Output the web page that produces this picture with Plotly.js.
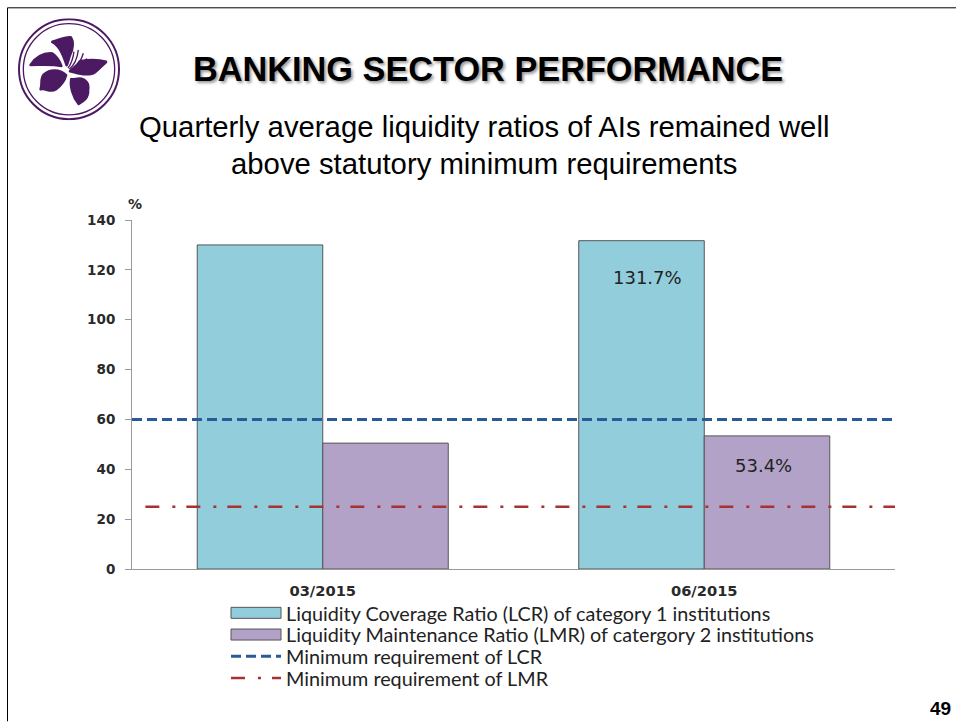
<!DOCTYPE html>
<html>
<head>
<meta charset="utf-8">
<script src="https://cdn.plot.ly/plotly-3.0.1.min.js"></script>
<style>html,body{margin:0;padding:0;background:#fff;overflow:hidden}#c{width:956px;height:722px}</style>
</head>
<body>
<div id="c"></div>
<script>
var categories = ['03/2015', '06/2015'];
var categoryPositions = [0, 1];
var lcrValues = [130, 131.7];
var lmrValues = [50.5, 53.4];
var lcrMinimum = [60, 60];
var lmrMinimum = [25, 25];
var lcrLineX = [-0.5, 1.5];
var lmrLineX = [-0.465, 1.5];
var yTicks = [0, 20, 40, 60, 80, 100, 120, 140];
var seriesNames = [
  'Liquidity Coverage Ratio (LCR) of category 1 institutions',
  'Liquidity Maintenance Ratio (LMR) of catergory 2 institutions',
  'Minimum requirement of LCR',
  'Minimum requirement of LMR'
];
var W = 956, H = 722, L = 132, R = 895, T = 220, B = 569.5;
function px(x) { return (x - L) / (R - L); }
function py(y) { return (B - y) / (B - T); }

var logoSvg = '<svg xmlns="http://www.w3.org/2000/svg" width="306" height="306" viewBox="54 55 306 306">' +
  '<circle cx="207" cy="208" r="150" fill="none" stroke="#4b1a63" stroke-width="6"/>' +
  '<circle cx="207" cy="208" r="137" fill="none" stroke="#4b1a63" stroke-width="4"/>' +
  '<g fill="#4b1a63" stroke="#4b1a63" stroke-width="8" stroke-linejoin="round">' +
  '<path d="M200 196C192 170 178 135 157 126C175 122 192 110 212 112C222 125 218 150 210 165C205 178 204 188 200 196Z"/>' +
  '<path d="M184 198C155 192 120 195 92 195C105 174 130 158 157 161C170 170 178 182 184 198Z"/>' +
  '<path d="M210 214C232 220 268 230 286 216C300 205 308 195 318 186C292 178 266 180 240 184C232 196 220 206 210 214Z"/>' +
  '<path d="M198 226C178 208 150 208 132 224C120 236 128 252 122 268C140 264 150 280 168 268C184 256 194 242 198 226Z"/>' +
  '<path d="M214 238C210 258 218 290 236 312C250 304 266 294 264 270C268 250 256 240 245 237C235 234 222 240 214 238Z"/>' +
  '</g>' +
  '<g fill="none" stroke="#4b1a63" stroke-width="4">' +
  '<path d="M204 205C215 190 220 170 222 155"/>' +
  '<path d="M208 208C224 195 232 175 235 150"/>' +
  '<path d="M212 210C232 200 244 182 250 160"/>' +
  '<path d="M214 214C236 210 252 195 260 176"/>' +
  '</g></svg>';

var traces = [
  { type: 'bar', name: seriesNames[0], x: categoryPositions, y: lcrValues,
    marker: { color: '#92cddc', line: { color: '#555', width: 1 } } },
  { type: 'bar', name: seriesNames[1], x: categoryPositions, y: lmrValues,
    marker: { color: '#b3a2c7', line: { color: '#555', width: 1 } } },
  { type: 'scatter', mode: 'lines', name: seriesNames[2], x: lcrLineX, y: lcrMinimum,
    line: { color: '#2a5a98', width: 3, dash: '10px,5px' } },
  { type: 'scatter', mode: 'lines', name: seriesNames[3], x: lmrLineX, y: lmrMinimum,
    line: { color: '#a83232', width: 2.5, dash: '14px,13px,3px,11px' } }
];

function centered(x, y, text, font) {
  return { xref: 'paper', yref: 'paper', x: px(x), y: py(y), xanchor: 'center', yanchor: 'middle',
    showarrow: false, text: text, font: font };
}

var layout = {
  width: W, height: H,
  margin: { l: L, r: W - R, t: T, b: H - B, pad: 0, autoexpand: false },
  paper_bgcolor: '#fff', plot_bgcolor: '#fff',
  barmode: 'group', bargap: 0.342, bargroupgap: 0,
  hovermode: false,
  xaxis: {
    automargin: false,
    range: [-0.5, 1.5], tickmode: 'array', tickvals: categoryPositions, ticktext: categories,
    ticks: '', showgrid: false, zeroline: false, showline: true, linecolor: '#999', linewidth: 1,
    ticklabelstandoff: 8,
    tickfont: { family: 'DejaVu Sans', size: 14.7, color: '#2a2a2a', weight: 'bold' }
  },
  yaxis: {
    automargin: false,
    range: [0, 140], tickmode: 'array', tickvals: yTicks,
    ticks: 'outside', ticklen: 6, tickcolor: '#999', tickwidth: 1,
    showgrid: false, zeroline: false, showline: true, linecolor: '#999', linewidth: 1,
    ticklabelstandoff: 7,
    tickfont: { family: 'DejaVu Sans', size: 13.5, color: '#2a2a2a', weight: 'bold' }
  },
  legend: {
    x: px(226), y: py(594), xanchor: 'left', yanchor: 'top',
    bgcolor: 'rgba(0,0,0,0)', itemwidth: 50, itemclick: false, itemdoubleclick: false,
    traceorder: 'normal',
    font: { family: 'Lato', size: 19.8, color: '#222' }
  },
  annotations: [
    centered(488, 69, '<b>BANKING SECTOR PERFORMANCE</b>',
      { family: 'Liberation Sans', size: 34.3, color: '#000', shadow: '2px 2px 3px #999' }),
    centered(484, 126.5, 'Quarterly average liquidity ratios of AIs remained well',
      { family: 'Liberation Sans', size: 29.3, color: '#000' }),
    centered(484, 163, 'above statutory minimum requirements',
      { family: 'Liberation Sans', size: 29.3, color: '#000' }),
    centered(135, 204, '<b>%</b>', { family: 'DejaVu Sans', size: 14, color: '#2a2a2a' }),
    { xref: 'x', yref: 'y', x: 0.851, y: 116.8, xanchor: 'center', yanchor: 'middle', showarrow: false,
      text: lcrValues[1] + '%', font: { family: 'DejaVu Sans', size: 18, color: '#222' } },
    { xref: 'x', yref: 'y', x: 1.154, y: 41.5, xanchor: 'center', yanchor: 'middle', showarrow: false,
      text: lmrValues[1] + '%', font: { family: 'DejaVu Sans', size: 18, color: '#222' } },
    centered(940, 709, '<b>49</b>', { family: 'Liberation Sans', size: 19, color: '#000' })
  ],
  shapes: [
    { type: 'line', xref: 'paper', yref: 'paper', x0: px(7.5), x1: px(956), y0: py(7.5), y1: py(7.5),
      line: { color: '#000', width: 1 } },
    { type: 'line', xref: 'paper', yref: 'paper', x0: px(7.5), x1: px(7.5), y0: py(7.5), y1: py(722),
      line: { color: '#000', width: 1 } }
  ],
  images: [
    { source: 'data:image/svg+xml;charset=utf-8,' + encodeURIComponent(logoSvg),
      xref: 'paper', yref: 'paper', x: px(18), y: py(18), sizex: 102 / (R - L), sizey: 102 / (B - T),
      xanchor: 'left', yanchor: 'top', sizing: 'stretch', layer: 'above' }
  ]
};

Plotly.newPlot('c', traces, layout, { displayModeBar: false, staticPlot: true }).then(function () {
  var rows = document.querySelectorAll('#c .legend .traces');
  var m = /translate\(([-\d.]+),\s*([-\d.]+)\)/.exec(rows[0].getAttribute('transform'));
  for (var i = 0; i < rows.length; i++) {
    rows[i].setAttribute('transform', 'translate(' + m[1] + ',' + (parseFloat(m[2]) + i * 21.7) + ')');
  }
  for (var k = 0; k < 2; k++) {
    var paths = rows[k].querySelectorAll('.legendpoints path');
    for (var j = 0; j < paths.length; j++) {
      paths[j].setAttribute('d', 'M25,5.5H-25V-5.5H25Z');
    }
  }
});
</script>
</body>
</html>
